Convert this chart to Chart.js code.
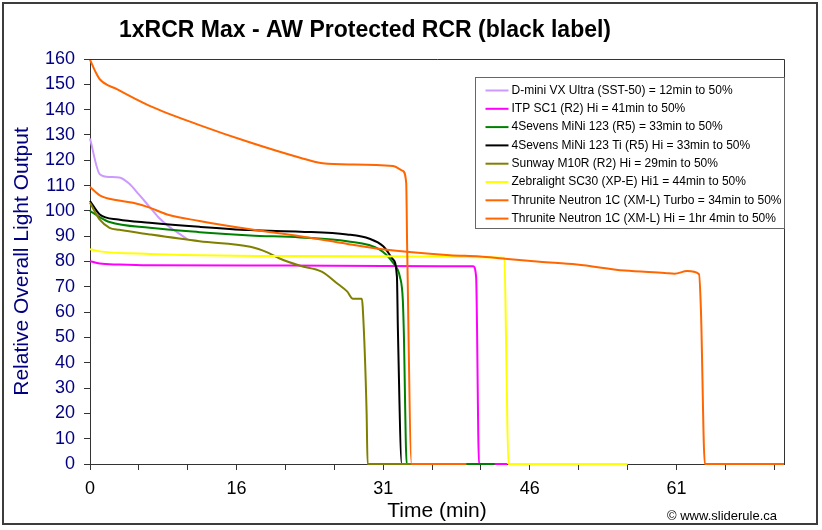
<!DOCTYPE html>
<html>
<head>
<meta charset="utf-8">
<script src="https://cdn.jsdelivr.net/npm/chart.js@4.4.1/dist/chart.umd.min.js"></script>
<style>
  body { margin: 0; background: #fff; }
  #wrap { width: 822px; height: 530px; }
</style>
</head>
<body>
<div id="wrap"><canvas id="runtimeChart" width="822" height="530"></canvas></div>
<script>
// Series names and colours (same order as the legend)
const seriesNames = [
    'D-mini VX Ultra (SST-50) = 12min to 50%',
    'ITP SC1 (R2) Hi = 41min to 50%',
    '4Sevens MiNi 123 (R5) = 33min to 50%',
    '4Sevens MiNi 123 Ti (R5) Hi = 33min to 50%',
    'Sunway M10R (R2) Hi = 29min to 50%',
    'Zebralight SC30 (XP-E) Hi1 = 44min to 50%',
    'Thrunite Neutron 1C (XM-L) Turbo = 34min to 50%',
    'Thrunite Neutron 1C (XM-L) Hi = 1hr 4min to 50%'
];
const seriesColors = ['#CC99FF', '#FF00FF', '#008000', '#000000', '#808000', '#FFFF00', '#FF6600', '#FF6600'];

// x = position on the time axis, y = relative output
const dminiX = [0, 1, 2, 3, 4, 5, 6, 7, 8, 9, 10];
const dminiY = [128.6, 114.5, 113.4, 113.2, 110.8, 106.5, 102, 97.5, 94, 91.3, 88.7];

const itpX = [0, 1, 3, 6, 20, 30, 39.2, 39.5, 39.8, 42.7];
const itpY = [80.1, 79.2, 78.8, 78.5, 78.4, 78.2, 78.1, 74, 0, 0];

const mini123X = [0, 1, 2, 6.1, 11.2, 16.4, 21.5, 26.3, 29.6, 31, 31.7, 32, 32.1, 32.4, 41.4];
const mini123Y = [100, 97.5, 95.6, 93.3, 91.6, 90.3, 89.5, 88, 84.8, 79.5, 74, 65, 53, 0, 0];

const miniTiX = [0, 1, 2.9, 6.1, 11.2, 16.4, 21.5, 26.3, 28.6, 30, 31, 31.4, 31.5, 31.9, 34];
const miniTiY = [103.9, 98.6, 96.6, 95.3, 93.7, 92.4, 91.8, 90.7, 89, 86, 80.8, 74, 53, 0, 0];

const sunwayX = [0, 1, 2, 3, 6.1, 11.2, 16.4, 18.2, 19.4, 21.5, 23.7, 25.4, 26.3, 26.9, 27.8, 27.9, 28.3, 28.4, 33];
const sunwayY = [103.2, 96.5, 93.3, 92.5, 90.7, 88, 85.8, 83.5, 81.2, 78.3, 76, 71, 68.2, 65.3, 65.3, 62, 20, 0, 0];

const zebraX = [0, 1, 6.1, 21.5, 42.4, 42.6, 42.8, 55];
const zebraY = [84.8, 84, 83, 82.2, 81.5, 40, 0, 0];

const turboX = [0, 0.5, 1, 2.8, 6.1, 11.2, 16.4, 21.5, 23.8, 27, 31, 32, 32.35, 32.45, 32.9, 38.5];
const turboY = [159.7, 155.4, 152, 148, 141.5, 133.9, 127, 121, 118.8, 118.3, 117.7, 115.8, 111, 85, 0, 0];

const hiX = [0, 1.1, 2.8, 4.4, 6.1, 7.9, 11.2, 16.4, 21.5, 25.6, 29.9, 36.8, 39.9, 42.2, 46, 49.8, 54.7, 58.8, 59.8, 61.1, 62.3, 62.5, 62.9, 71];
const hiY = [109.4, 105.9, 104.2, 103.2, 101.3, 98.6, 96, 92.7, 90, 87.4, 84.8, 82.5, 82, 81.2, 79.9, 78.8, 76.4, 75.5, 75.2, 76.2, 75, 61, 0, 0];

// Axis ticks
const xTickMarks = [0, 5, 10, 15, 20, 25, 30, 35, 40, 45, 50, 55, 60, 65, 70];
const xTickValues = [0, 15, 30, 45, 60];
const xTickLabels = ['0', '16', '31', '46', '61'];

const chartTitle = '1xRCR Max - AW Protected RCR (black label)';
const copyright = '\u00A9 www.sliderule.ca';

const seriesX = [dminiX, itpX, mini123X, miniTiX, sunwayX, zebraX, turboX, hiX];
const seriesY = [dminiY, itpY, mini123Y, miniTiY, sunwayY, zebraY, turboY, hiY];

const datasets = seriesNames.map((name, i) => ({
    label: name,
    data: seriesX[i].map((x, j) => ({ x: x, y: seriesY[i][j] })),
    borderColor: seriesColors[i],
    borderWidth: 2,
    pointRadius: 0,
    fill: false,
    clip: false,
    cubicInterpolationMode: 'monotone',
    order: seriesNames.length - i   // later series on top, like Excel
}));

// title, frame, legend box and footer
const decor = {
    id: 'decor',
    beforeDraw(chart) {
        const ctx = chart.ctx;
        ctx.save();
        ctx.fillStyle = '#fff';
        ctx.fillRect(0, 0, chart.width, chart.height);
        ctx.restore();
    },
    afterDatasetsDraw(chart) {
        const { ctx, chartArea: a } = chart;
        ctx.save();
        ctx.strokeStyle = '#333';
        ctx.lineWidth = 1;
        ctx.beginPath();
        ctx.moveTo(a.left, a.top + 0.5);
        ctx.lineTo(a.right + 0.5, a.top + 0.5);
        ctx.lineTo(a.right + 0.5, a.bottom);
        ctx.stroke();
        ctx.restore();
    },
    afterDraw(chart) {
        const { ctx, chartArea: a } = chart;
        ctx.save();

        // legend box
        const boxW = 309, boxH = 151, rowH = 18.3;
        const bx = a.right - boxW + 0.5, by = a.top + 18.5;
        ctx.fillStyle = '#fff';
        ctx.fillRect(bx, by, boxW, boxH);
        ctx.strokeStyle = '#666';
        ctx.lineWidth = 1;
        ctx.strokeRect(bx, by, boxW, boxH);
        ctx.font = '12px Arial, "Liberation Sans"';
        ctx.textBaseline = 'middle';
        ctx.textAlign = 'left';
        seriesNames.forEach((name, i) => {
            const y = by + 13 + i * rowH;
            ctx.strokeStyle = seriesColors[i];
            ctx.lineWidth = 2;
            ctx.beginPath();
            ctx.moveTo(bx + 10, y);
            ctx.lineTo(bx + 33, y);
            ctx.stroke();
            ctx.fillStyle = '#000';
            ctx.fillText(name, bx + 36, y);
        });

        // chart title
        ctx.fillStyle = '#000';
        ctx.font = 'bold 23px Arial, "Liberation Sans"';
        ctx.textAlign = 'center';
        ctx.fillText(chartTitle, 365, 31);

        // footer
        ctx.font = '13px Arial, "Liberation Sans"';
        ctx.textAlign = 'right';
        ctx.fillText(copyright, 777, 516);

        // outer border
        ctx.strokeStyle = '#3c3c3c';
        ctx.lineWidth = 2;
        ctx.strokeRect(3, 3, 814, 521);
        ctx.restore();
    }
};

new Chart(document.getElementById('runtimeChart'), {
    type: 'line',
    data: { datasets: datasets },
    plugins: [decor],
    options: {
        responsive: false,
        animation: false,
        events: [],
        layout: { padding: { top: 59, right: 38, bottom: 0, left: 0 } },
        plugins: {
            legend: { display: false },
            title: { display: false },
            tooltip: { enabled: false }
        },
        scales: {
            x: {
                type: 'linear',
                min: 0,
                max: 71,
                afterFit: (scale) => { scale.height = 66; },
                afterBuildTicks: (scale) => { scale.ticks = xTickMarks.map(v => ({ value: v })); },
                ticks: {
                    autoSkip: false,
                    maxRotation: 0,
                    padding: 8,
                    color: '#000',
                    font: { family: 'Arial, "Liberation Sans"', size: 18 },
                    callback: (v) => {
                        const k = xTickValues.indexOf(v);
                        return k >= 0 ? xTickLabels[k] : '';
                    }
                },
                grid: { display: true, drawOnChartArea: false, tickLength: 6, color: '#333' },
                border: { display: true, color: '#333', width: 1 },
                title: {
                    display: true,
                    text: 'Time (min)',
                    color: '#000',
                    font: { family: 'Arial, "Liberation Sans"', size: 21 },
                    padding: { top: 0, bottom: 6 }
                }
            },
            y: {
                min: 0,
                max: 160,
                afterFit: (scale) => { scale.width = 90; },
                ticks: {
                    stepSize: 10,
                    padding: 9,
                    color: '#000080',
                    font: { family: 'Arial, "Liberation Sans"', size: 18 }
                },
                grid: { display: true, drawOnChartArea: false, tickLength: 6, color: '#333' },
                border: { display: true, color: '#333', width: 1 },
                title: {
                    display: true,
                    text: 'Relative Overall Light Output',
                    color: '#000080',
                    font: { family: 'Arial, "Liberation Sans"', size: 21 },
                    padding: { top: 10, bottom: 0 }
                }
            }
        }
    }
});
</script>
</body>
</html>
